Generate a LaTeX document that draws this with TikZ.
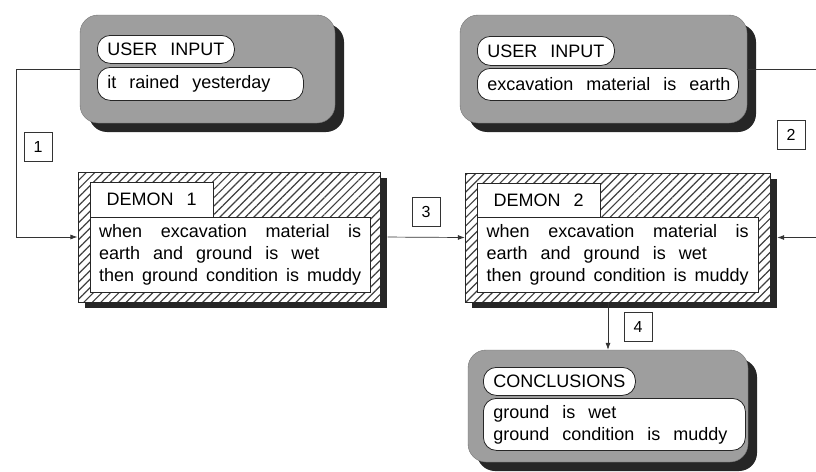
\documentclass[tikz,border=0pt]{standalone}
\usepackage{fontspec}
\setmainfont{Liberation Sans}[WordSpace={2.6,6,4.5}]
\usepackage{tikz}
\usetikzlibrary{arrows.meta, positioning, shadows, patterns.meta}
\newcommand{\boxfont}{\fontsize{18}{22}\selectfont}
\newcommand{\fullline}[1]{\makebox[262pt][s]{#1}}
\newcommand{\partline}[2]{\makebox[#1][l]{#2}}

\begin{document}
\begin{tikzpicture}[
    x=1pt, y=-1pt,
    panel/.style={rectangle, rounded corners=18pt, draw=black!55, fill=black!38,
                  drop shadow={shadow xshift=9pt, shadow yshift=-9pt, fill=black!85, opacity=1}},
    pill/.style={rectangle, rounded corners=13pt, draw=black!85, thick, fill=white,
                 anchor=north west, inner xsep=10pt, font=\boxfont, align=left},
    demon/.style={rectangle, draw=black!85,
                  drop shadow={shadow xshift=7pt, shadow yshift=-6pt, fill=black!85, opacity=1},
                  preaction={fill=white},
                  pattern={Lines[angle=45, distance=6pt, line width=1.2pt]}, pattern color=black!75},
    slot/.style={rectangle, draw=black!85, fill=white, anchor=north west, font=\boxfont},
    tag/.style={rectangle, draw=black!80, fill=white, minimum width=28pt, minimum height=29pt,
                inner sep=0pt, font=\fontsize{16}{16}\selectfont},
    arr/.style={-{Latex[length=7pt, width=5pt]}, black!80, line width=0.7pt},
]
    \useasboundingbox (0,0) rectangle (816,471);
    \clip (0,0) rectangle (816,471);

    % User input 1
    \node[panel, minimum width=255pt, minimum height=108pt] (input1) at (207.5,69) {};
    \node[pill, minimum height=28pt] (in1head) at (97,35) {USER INPUT};
    \node[pill, minimum height=33pt] (in1val) at (97,67) {\partline{186pt}{it rained yesterday}};

    % User input 2
    \node[panel, minimum width=287pt, minimum height=108pt] (input2) at (603.5,69) {};
    \node[pill, minimum height=29pt] (in2head) at (477,36) {USER INPUT};
    \node[pill, minimum height=32pt] (in2val) at (477,68) {\partline{241pt}{excavation material is earth}};

    % Demon 1
    \node[demon, minimum width=302pt, minimum height=130pt] (demon1) at (229,237) {};
    \node[slot, minimum width=123pt, minimum height=35pt] (d1head) at (90,182) {DEMON 1};
    \node[slot, inner xsep=9pt, minimum height=75pt, align=left] (d1body) at (90,217)
        {\fullline{when excavation material is}\\\partline{262pt}{earth and ground is wet}\\\fullline{then ground condition is muddy}};

    % Demon 2
    \node[demon, minimum width=305pt, minimum height=129pt] (demon2) at (617.5,237.5) {};
    \node[slot, minimum width=123pt, minimum height=34pt] (d2head) at (477,183) {DEMON 2};
    \node[slot, inner xsep=9.5pt, minimum height=75pt, align=left] (d2body) at (477,217)
        {\fullline{when excavation material is}\\\partline{262pt}{earth and ground is wet}\\\fullline{then ground condition is muddy}};

    % Conclusions
    \node[panel, minimum width=280pt, minimum height=112pt] (concl) at (608,406) {};
    \node[pill, minimum height=28pt] (cohead) at (483,367) {CONCLUSIONS};
    \node[pill, minimum height=52pt] (coval) at (483,398)
        {\partline{242pt}{ground is wet}\\\partline{242pt}{ground condition is muddy}};

    % Step tags
    \node[tag] (t1) at (38,147) {1};
    \node[tag] (t2) at (791,135) {2};
    \node[tag] (t3) at (426,212) {3};
    \node[tag] (t4) at (638,327) {4};

    % Wiring
    \coordinate (lrail) at (16,0);
    \coordinate (rrail) at (822,0);
    \draw[arr] (input1.west) -| (lrail |- demon1.west) -- (demon1.west);
    \draw[arr, shorten >=7pt] (input2.east) -| (rrail |- demon2.east) -- (demon2.east);
    \draw[arr, shorten <=7pt] (demon1.east) -- (demon2.west);
    \draw[arr] (concl.north |- demon2.south) -- (concl.north);
\end{tikzpicture}
\end{document}
